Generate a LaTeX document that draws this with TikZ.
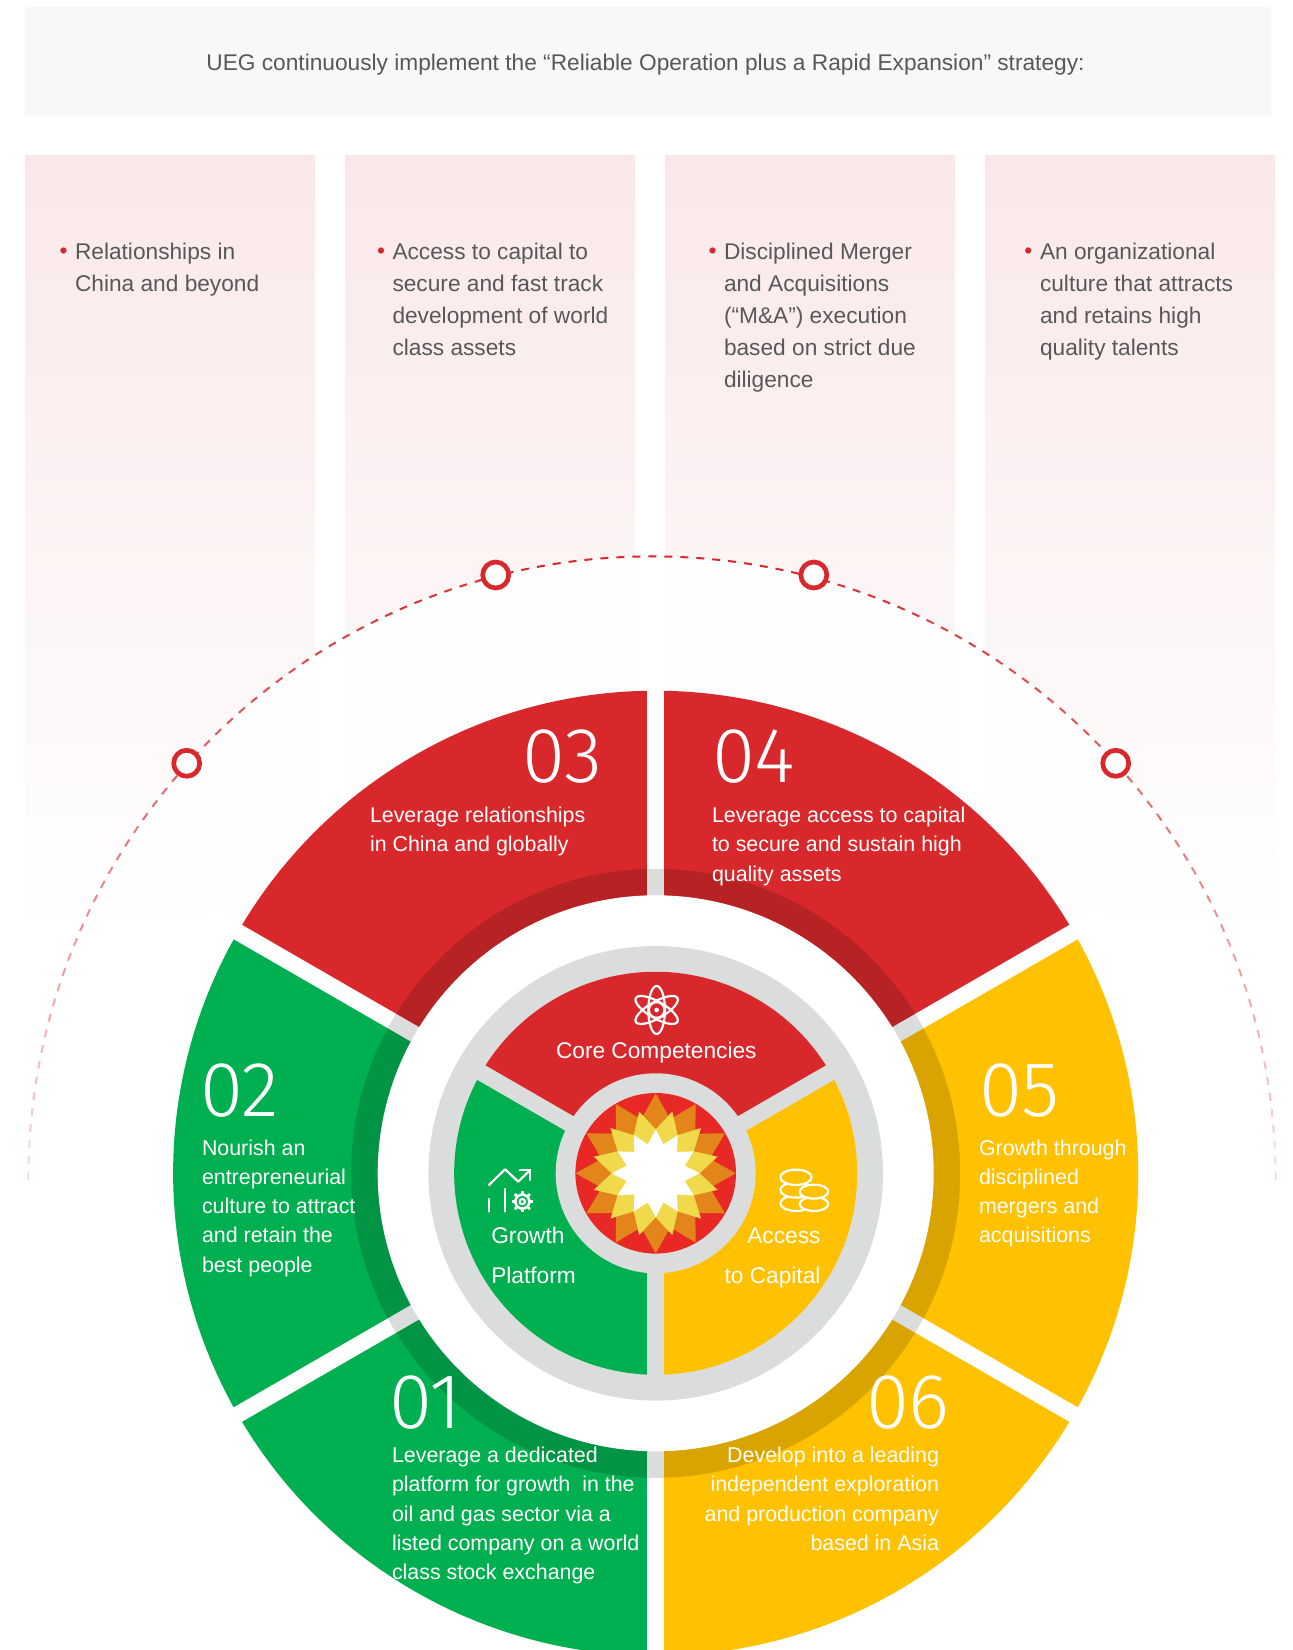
\documentclass[tikz,border=0pt]{standalone}
\usepackage{xcolor}
\usepackage{fontspec}
\setmainfont{Liberation Sans}
\newfontfamily\digitfont{Fira Sans Light}
\usepackage{tikz}
\usetikzlibrary{calc}

\definecolor{bandColor}{RGB}{247,248,247}
\definecolor{pinkColor}{RGB}{250,232,233}
\definecolor{inkColor}{RGB}{88,88,88}
\definecolor{redColor}{RGB}{216,40,43}
\definecolor{greenColor}{RGB}{0,175,80}
\definecolor{yellowColor}{RGB}{255,193,0}
\definecolor{greyColor}{RGB}{219,221,220}
\definecolor{sunRed}{RGB}{232,40,36}
\definecolor{sunOrange}{RGB}{227,133,26}
\definecolor{sunYellow}{RGB}{240,218,76}

\tikzset{
  bodytext/.style={text=inkColor,anchor=north west,align=left,inner sep=0pt,outer sep=0pt,
    font=\fontsize{22.7}{32}\selectfont},
  dottext/.style={text=redColor,anchor=base,inner sep=0pt,outer sep=0pt,
    font=\fontsize{22.7}{32}\selectfont},
  segtext/.style={text=white,anchor=north west,align=left,inner sep=0pt,outer sep=0pt,
    font=\fontsize{21.4}{29.3}\selectfont},
  segnum/.style={text=white,anchor=base west,inner sep=0pt,outer sep=0pt,xscale=1.0,
    font=\fontsize{78}{78}\digitfont},
  hubtext/.style={text=white,anchor=base,inner sep=0pt,outer sep=0pt,
    font=\fontsize{22.7}{29}\selectfont},
  ringnode/.style={circle,draw=redColor,fill=white,line width=4.7,minimum size=26,inner sep=0pt},
  iconline/.style={draw=white,line width=2.2,line cap=round,line join=round},
}

\begin{document}
\begin{tikzpicture}[x=1pt,y=1pt]
\path[use as bounding box,fill=white] (0,0) rectangle (1293,1650);
\clip (0,0) rectangle (1293,1650);

% top band and columns
\path[fill=bandColor] (25,1534) rectangle (1271,1643);
\node[text=inkColor,anchor=base,inner sep=0pt,outer sep=0pt,font=\fontsize{22.7}{32}\selectfont] (headline) at (645.5,1579) {UEG continuously implement the “Reliable Operation plus a Rapid Expansion” strategy:};
\foreach \xa/\xb in {25/315,345/635,665/955,985/1275}{
  \shade[top color=pinkColor,bottom color=white] (\xa,715) rectangle (\xb,1494);
}
\node[dottext] (dotA) at (63.5,1391) {•};
\node[dottext] (dotB) at (381,1391) {•};
\node[dottext] (dotC) at (712.5,1391) {•};
\node[dottext] (dotD) at (1028.3,1391) {•};
\node[bodytext] (colA) at (75,1406.7) {Relationships in\\China and beyond};
\node[bodytext] (colB) at (392.5,1406.7) {Access to capital to\\secure and fast track\\development of world\\class assets};
\node[bodytext] (colC) at (724,1406.7) {Disciplined Merger\\and Acquisitions\\(“M\&A”) execution\\based on strict due\\diligence};
\node[bodytext] (colD) at (1040,1406.7) {An organizational\\culture that attracts\\and retains high\\quality talents};

% dashed arch
\coordinate (archC) at (652,470);
\path[fill=white,fill opacity=0.92] (archC) circle (623.6);
\foreach \ya [evaluate=\ya as \mx using {15+0.1362*(\ya-450)}] in {470,510,...,1070}{
  \begin{scope}
  \clip (0,\ya) rectangle (1293,\ya+40);
  \draw[draw=redColor!\mx!white,line width=2,dash pattern=on 8pt off 8pt] ($(archC)+(180:623.6)$) arc[start angle=180,end angle=0,radius=623.6];
  \end{scope}
}
\node[ringnode] (ringA) at (186.7,886.7) {};
\node[ringnode] (ringB) at (495.7,1075) {};
\node[ringnode] (ringC) at (813.8,1075) {};
\node[ringnode] (ringD) at (1115.7,886.7) {};

% outer segments
\coordinate (hub) at (655.7,476.7);
\path[fill=redColor] (hub) -- ++(30:482.5) arc[start angle=30,end angle=150,radius=482.5] -- cycle;
\path[fill=greenColor] (hub) -- ++(150:482.5) arc[start angle=150,end angle=270,radius=482.5] -- cycle;
\path[fill=yellowColor] (hub) -- ++(270:482.5) arc[start angle=270,end angle=390,radius=482.5] -- cycle;
\path[fill=black,fill opacity=0.15] (hub) circle (304.5);
\foreach \a in {30,90,150,210,270,330}{
  \draw[greyColor,line width=16.6] ($(hub)+(\a:270)$) -- ($(hub)+(\a:304.5)$);
  \draw[white,line width=16.6] ($(hub)+(\a:304.5)$) -- ($(hub)+(\a:520)$);
}
\path[fill=white] (hub) circle (278);

% inner wheel
\path[fill=greyColor] (hub) circle (227.3);
\path[fill=redColor] (hub) -- ++(30:201.5) arc[start angle=30,end angle=150,radius=201.5] -- cycle;
\path[fill=greenColor] (hub) -- ++(150:201.5) arc[start angle=150,end angle=270,radius=201.5] -- cycle;
\path[fill=yellowColor] (hub) -- ++(270:201.5) arc[start angle=270,end angle=390,radius=201.5] -- cycle;
\foreach \a in {30,150,270}{
  \draw[greyColor,line width=16.6] (hub) -- ($(hub)+(\a:215)$);
}
\path[fill=greyColor] (hub) circle (100);
\path[fill=sunRed] (hub) circle (80.3);

% sun
\path[fill=sunOrange] ($(hub)+(0:80)$) \foreach \a in {30,60,...,360}{ -- ($(hub)+(\a-15:56)$) -- ($(hub)+(\a:80)$) } -- cycle;
\path[fill=sunYellow] ($(hub)+(15:64)$) \foreach \a in {45,75,...,375}{ -- ($(hub)+(\a-15:44)$) -- ($(hub)+(\a:64)$) } -- cycle;
\path[fill=white] ($(hub)+(0:44)$) \foreach \a in {30,60,...,360}{ -- ($(hub)+(\a-15:30)$) -- ($(hub)+(\a:44)$) } -- cycle;

% numbers and texts of the segments
\node[segnum] (numC) at (522,867) {03};
\node[segnum] (numD) at (712,867) {04};
\node[segnum] (numB) at (200,533.4) {02};
\node[segnum] (numE) at (979,533.4) {05};
\node[segnum] (numA) at (389,221) {01};
\node[segnum] (numF) at (866,221) {06};
\node[segtext] (txtC) at (370,843) {Leverage relationships\\in China and globally};
\node[segtext] (txtD) at (712,843) {Leverage access to capital\\to secure and sustain high\\quality assets};
\node[segtext] (txtB) at (202,510.5) {Nourish an\\entrepreneurial\\culture to attract\\and retain the\\best people};
\node[segtext] (txtE) at (979,510.5) {Growth through\\disciplined\\mergers and\\acquisitions};
\node[segtext] (txtA) at (392,203) {Leverage a dedicated\\platform for growth\ \ in the\\oil and gas sector via a\\listed company on a world\\class stock exchange};
\node[segtext,anchor=north east,align=right] (txtF) at (939,203) {Develop into a leading\\independent exploration\\and production company\\based in Asia};

% wheel labels
\node[hubtext] (core) at (656.3,591.7) {Core Competencies};
\node[hubtext,anchor=base west] (growA) at (491.3,406.7) {Growth};
\node[hubtext,anchor=base west] (growB) at (491.3,366.3) {Platform};
\node[hubtext,anchor=base east] (accA) at (820.5,406.7) {Access};
\node[hubtext,anchor=base east] (accB) at (820.5,366.3) {to Capital};

% icons
\begin{scope}[shift={(420,710)},x=0.3333pt,y=-0.3333pt]
\foreach \r in {90,30,150}{
  \draw[iconline,rotate around={\r:(710,210)}] (710,210) ellipse [x radius=72,y radius=25];
}
\path[fill=white] (710,210) circle (7);
\draw[iconline,line width=1.2] (710,210) circle (22);
\draw[iconline] (207,735) -- (255,688) -- (295,725) -- (330,690);
\draw[iconline] (300,690) -- (330,690) -- (330,720);
\draw[iconline] (208,777) -- (208,815);
\draw[iconline] (254,747) -- (254,815);
\draw[iconline,line width=2.6] (307,785) circle (21);
\draw[iconline] (307,785) circle (8);
\foreach \a in {0,45,...,315}{
  \draw[white,line width=2.6] ($(307,785)+(\a:20)$) -- ($(307,785)+(\a:32)$);
}
\foreach \yy in {790,750,712}{
  \draw[iconline,fill=yellowColor] (1128,\yy) ellipse [x radius=47,y radius=23];
}
\foreach \yy in {792,755}{
  \draw[iconline,fill=yellowColor] (1182,\yy) ellipse [x radius=43,y radius=21];
}
\end{scope}
\end{tikzpicture}
\end{document}
